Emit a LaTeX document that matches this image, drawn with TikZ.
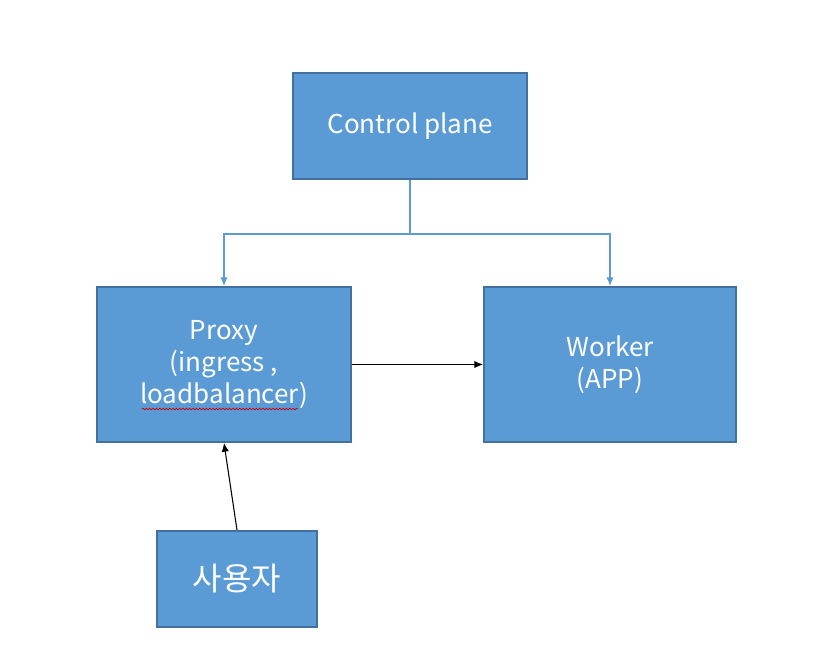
\documentclass[tikz,border=0pt]{standalone}
\usepackage{fontspec}
\setmainfont{Noto Sans CJK KR}
\usepackage{xcolor}
\usetikzlibrary{decorations.pathmorphing,arrows.meta}
\tikzset{>={Latex[length=6.5pt,width=5.5pt]}}
\definecolor{boxfill}{HTML}{5B9BD5}
\definecolor{boxline}{HTML}{41719C}
\colorlet{linkcol}{boxfill}
\tikzstyle{block}=[draw=boxline,fill=boxfill,line width=1.5pt,text=white,
  align=center,font=\fontsize{19.5}{24}\selectfont,inner sep=0pt]
\tikzstyle{link}=[->,linkcol,line width=0.8pt]
\tikzstyle{flow}=[->,black,line width=0.8pt]

\begin{document}
\begin{tikzpicture}[x=0.75pt,y=-0.75pt]
  \useasboundingbox (0,0) rectangle (817,665);

  % BOXES
  \node[block,minimum width=234*0.75pt,minimum height=106*0.75pt]
    (cp) at (410,126) {Control plane};
  \node[block,minimum width=254*0.75pt,minimum height=155*0.75pt]
    (proxy) at (224,364.5) {Proxy\\(ingress ,\\loadbalancer)};
  \node[block,minimum width=252*0.75pt,minimum height=155*0.75pt]
    (worker) at (610,364.5) {Worker\\(APP)};
  \node[block,minimum width=160*0.75pt,minimum height=96*0.75pt,
        font=\fontsize{24}{28}\selectfont]
    (user) at (237,579) {사용자};

  % SPELL MARK
  \coordinate (sqA) at (142,409);
  \coordinate (sqB) at (298,409);
  \draw[red!80!black,line width=0.5pt,
        decoration={snake,amplitude=0.6pt,segment length=2.5pt},decorate]
    (sqA) -- (sqB);

  % CONNECTORS
  \draw[link] (cp.south) -- ++(0,54) -| (proxy.north);
  \draw[link] (cp.south) -- ++(0,54) -| (worker.north);
  \draw[flow] (proxy.east) -- (worker.west);
  \draw[flow] (user.north) -- (proxy.south);

\end{tikzpicture}
\end{document}
